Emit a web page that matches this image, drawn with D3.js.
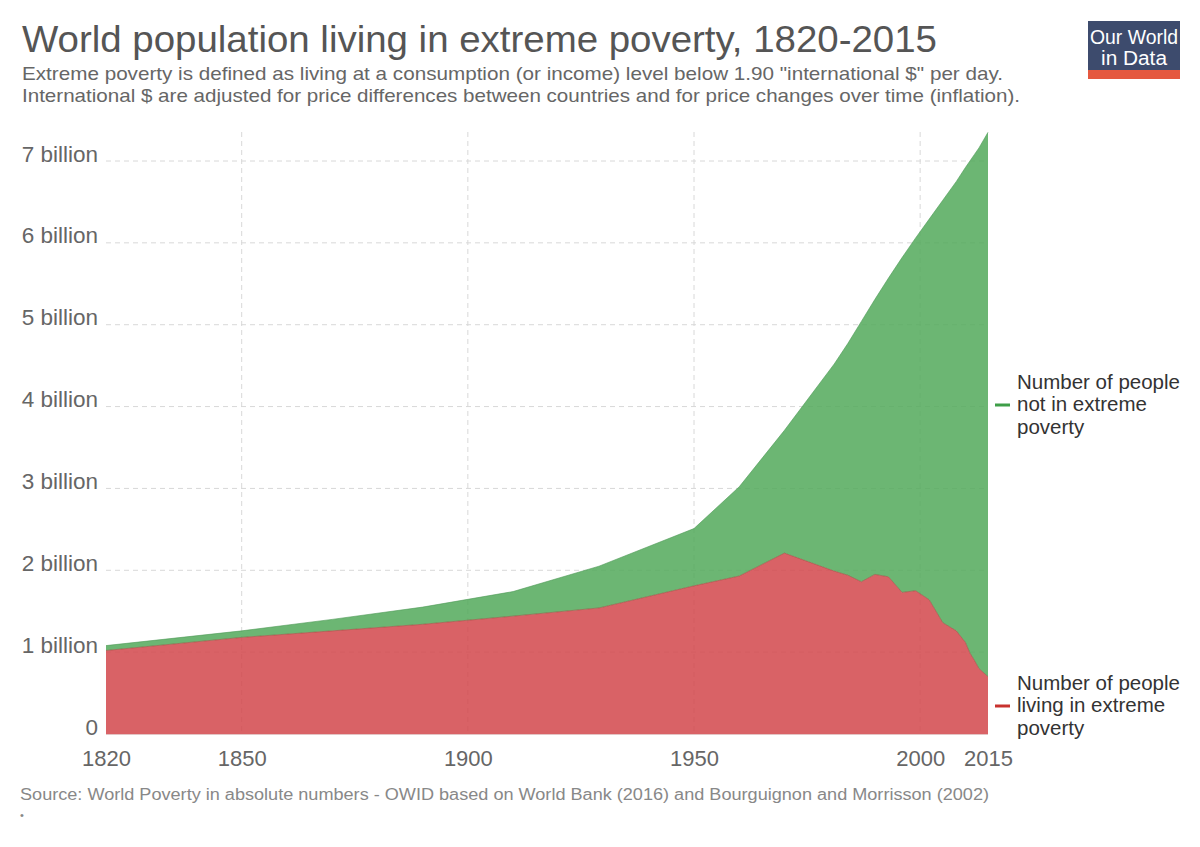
<!DOCTYPE html>
<html>
<head>
<meta charset="utf-8">
<script src="https://cdn.jsdelivr.net/npm/d3@7"></script>
<style>
  html, body { margin: 0; padding: 0; background: #fff; }
  svg { display: block; font-family: "Liberation Sans", Arial, sans-serif; }
</style>
</head>
<body>
<svg id="chart" width="1200" height="847"></svg>
<script>
// ---- Data (values in billions) ----
const years = [1820, 1850, 1870, 1890, 1910, 1929, 1950, 1960, 1970, 1981, 1984, 1987, 1990, 1993, 1996, 1999, 2002, 2005, 2008, 2010, 2011, 2012, 2013, 2015];
const inPoverty = [1.02, 1.18, 1.26, 1.34, 1.44, 1.54, 1.81, 1.93, 2.21, 1.99, 1.94, 1.86, 1.95, 1.92, 1.73, 1.75, 1.64, 1.36, 1.26, 1.12, 0.99, 0.90, 0.80, 0.70];
const notInPoverty = [0.06, 0.08, 0.14, 0.21, 0.30, 0.51, 0.70, 1.09, 1.50, 2.53, 2.83, 3.18, 3.36, 3.65, 4.09, 4.31, 4.65, 5.16, 5.49, 5.80, 6.01, 6.18, 6.36, 6.65];
const seriesNames = ["Number of people living in extreme poverty", "Number of people not in extreme poverty"];
const yTicks = [0, 1, 2, 3, 4, 5, 6, 7];
const xTicks = [1820, 1850, 1900, 1950, 2000, 2015];
const xGrid = [1850, 1900, 1950, 2000];

const title = "World population living in extreme poverty, 1820-2015";
const subtitle1 = "Extreme poverty is defined as living at a consumption (or income) level below 1.90 \"international $\" per day.";
const subtitle2 = "International $ are adjusted for price differences between countries and for price changes over time (inflation).";
const source = "Source: World Poverty in absolute numbers - OWID based on World Bank (2016) and Bourguignon and Morrisson (2002)";

const rows = years.map((y, i) => ({ year: y, poverty: inPoverty[i], notPoverty: notInPoverty[i] }));

const svg = d3.select("#chart");
const x = d3.scaleLinear().domain([1820, 2015]).range([106, 988]);
const y = d3.scaleLinear().domain([0, 7]).range([734, 161]);

// Header
function fitText(sel, w) { sel.attr("textLength", w).attr("lengthAdjust", "spacingAndGlyphs"); }
svg.append("text").attr("x", 22).attr("y", 52).attr("font-size", 37).attr("fill", "#555").text(title).call(fitText, 915);
svg.append("text").attr("x", 22).attr("y", 80).attr("font-size", 19).attr("fill", "#666").text(subtitle1).call(fitText, 981);
svg.append("text").attr("x", 22).attr("y", 102).attr("font-size", 19).attr("fill", "#666").text(subtitle2).call(fitText, 998);

// Logo
const logo = svg.append("g");
logo.append("rect").attr("x", 1088).attr("y", 21).attr("width", 92).attr("height", 51).attr("fill", "#3d4b6d");
logo.append("rect").attr("x", 1088).attr("y", 70).attr("width", 92).attr("height", 9).attr("fill", "#e5583f");
logo.append("text").attr("x", 1134).attr("y", 44).attr("text-anchor", "middle").attr("font-size", 20).attr("fill", "#fff").text("Our World").call(fitText, 88);
logo.append("text").attr("x", 1134).attr("y", 65).attr("text-anchor", "middle").attr("font-size", 20).attr("fill", "#fff").text("in Data").call(fitText, 66);

// Grid
const grid = svg.append("g");
grid.selectAll("line.h").data(yTicks.filter(d => d > 0)).join("line")
  .attr("x1", 106).attr("x2", 988).attr("y1", d => y(d)).attr("y2", d => y(d))
  .attr("stroke", "#d8d8d8").attr("stroke-dasharray", "5,4").attr("stroke-width", 1);
grid.selectAll("line.v").data(xGrid).join("line")
  .attr("x1", d => x(d)).attr("x2", d => x(d)).attr("y1", 132).attr("y2", 734)
  .attr("stroke", "#d8d8d8").attr("stroke-dasharray", "5,4").attr("stroke-width", 1);

// Stacked areas
const stack = d3.stack().keys(["poverty", "notPoverty"]);
const stacked = stack(rows);
const fills = ["#d2464b", "#52a95b"];
const edges = ["#9c4a3c", "#4f9a57"];
const area = d3.area().x(d => x(d.data.year)).y0(d => y(d[0])).y1(d => y(d[1]));
const topLine = d3.line().x(d => x(d.data.year)).y(d => y(d[1]));
svg.append("g").selectAll("path").data(stacked).join("path")
  .attr("d", area).attr("fill", (d, i) => fills[i]).attr("fill-opacity", 0.85);
svg.append("g").selectAll("path").data(stacked).join("path")
  .attr("d", topLine).attr("fill", "none").attr("stroke", (d, i) => edges[i]).attr("stroke-width", 1).attr("stroke-opacity", 0.6);

// Baseline
svg.append("line").attr("x1", 106).attr("x2", 988).attr("y1", y(0) + 0.5).attr("y2", y(0) + 0.5).attr("stroke", "#e3c4c4").attr("stroke-width", 1);

// Y axis
const yAxis = d3.axisLeft(y).tickValues(yTicks).tickSize(0).tickPadding(0)
  .tickFormat(d => d === 0 ? "0" : d + " billion");
const gy = svg.append("g").attr("transform", "translate(98,0)").call(yAxis);
gy.select(".domain").remove();
gy.selectAll("text").attr("font-size", 22.5).attr("fill", "#666").attr("dy", 0)
  .attr("font-family", "'Liberation Sans', Arial, sans-serif");

// X axis
const xAxis = d3.axisBottom(x).tickValues(xTicks).tickSize(0).tickPadding(0).tickFormat(d3.format("d"));
const gx = svg.append("g").attr("transform", "translate(0,766)").call(xAxis);
gx.select(".domain").remove();
gx.selectAll("text").attr("font-size", 22).attr("fill", "#666").attr("dy", 0)
  .attr("font-family", "'Liberation Sans', Arial, sans-serif");

// Legend
const legend = [
  { lines: ["Number of people", "not in extreme", "poverty"], color: "#3e9e48", top: 389, dashY: 405 },
  { lines: ["Number of people", "living in extreme", "poverty"], color: "#c8322e", top: 690, dashY: 706 }
];
const lg = svg.append("g").selectAll("g").data(legend).join("g");
lg.append("line").attr("x1", 995).attr("x2", 1010).attr("y1", d => d.dashY).attr("y2", d => d.dashY)
  .attr("stroke", d => d.color).attr("stroke-width", 3);
lg.each(function(d) {
  const g = d3.select(this);
  d.lines.forEach((t, i) => {
    g.append("text").attr("x", 1017).attr("y", d.top + i * 22.3).attr("font-size", 20.5).attr("fill", "#333").text(t);
  });
});

// Source
svg.append("text").attr("x", 20).attr("y", 800).attr("font-size", 16).attr("fill", "#888").text(source).call(fitText, 969);
svg.append("text").attr("x", 20).attr("y", 819).attr("font-size", 11).attr("fill", "#888").text("•");
</script>
</body>
</html>
